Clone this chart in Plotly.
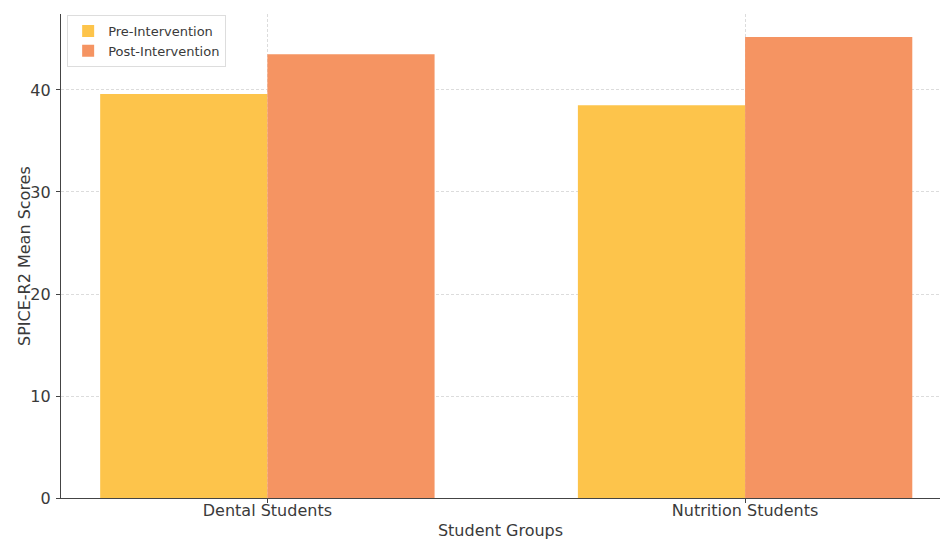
import plotly.graph_objects as go

groups = ["Dental Students", "Nutrition Students"]
pre_scores = [39.6, 38.5]
post_scores = [43.5, 45.2]
y_ticks = [0, 10, 20, 30, 40]

FONT = "DejaVu Sans"
TXT = "#3a3a3a"
fig = go.Figure()
x_idx = list(range(len(groups)))
w = 0.35
fig.add_trace(go.Bar(x=[i - w / 2 for i in x_idx], y=pre_scores, width=w,
                     name="Pre-Intervention", marker=dict(color="#FDC44B", line=dict(width=0))))
fig.add_trace(go.Bar(x=[i + w / 2 for i in x_idx], y=post_scores, width=w,
                     name="Post-Intervention", marker=dict(color="#F59462", line=dict(width=0))))

fig.update_layout(
    width=940, height=540,
    margin=dict(l=61, r=0, t=14, b=42),
    plot_bgcolor="white", paper_bgcolor="white",
    font=dict(family=FONT, color=TXT),
    barmode="overlay",
    showlegend=True,
    legend=dict(x=0.007, y=0.998, xanchor="left", yanchor="top",
                bgcolor="rgba(255,255,255,0.8)", bordercolor="#dddddd", borderwidth=1,
                font=dict(size=13, family=FONT, color=TXT), traceorder="normal",
                tracegroupgap=0, itemwidth=30),
    xaxis=dict(range=[-0.432, 1.408], tickmode="array", tickvals=x_idx, ticktext=groups,
               showgrid=True, gridcolor="#dcdcdc", griddash="3px,2px", gridwidth=1,
               showline=True, linecolor="#444444", linewidth=1.2,
               ticks="outside", ticklen=4, tickcolor="#444444", ticklabelstandoff=-6,
               tickfont=dict(size=16, family=FONT, color=TXT),
               title=dict(text="Student Groups", font=dict(size=16, family=FONT, color=TXT), standoff=6),
               zeroline=False),
    yaxis=dict(range=[0, 47.45], tickmode="array", tickvals=y_ticks,
               showgrid=True, gridcolor="#dcdcdc", griddash="3px,2px", gridwidth=1,
               showline=True, linecolor="#444444", linewidth=1.2,
               ticks="outside", ticklen=4, tickcolor="#444444", ticklabelstandoff=2,
               tickfont=dict(size=16, family=FONT, color=TXT),
               zeroline=False),
    annotations=[dict(text="SPICE-R2 Mean Scores", textangle=-90, showarrow=False,
                      xref="paper", yref="paper", x=(24 - 61) / 879, y=0.5,
                      xanchor="center", yanchor="middle",
                      font=dict(size=16, family=FONT, color=TXT))],
)
fig.write_html("out.html")
